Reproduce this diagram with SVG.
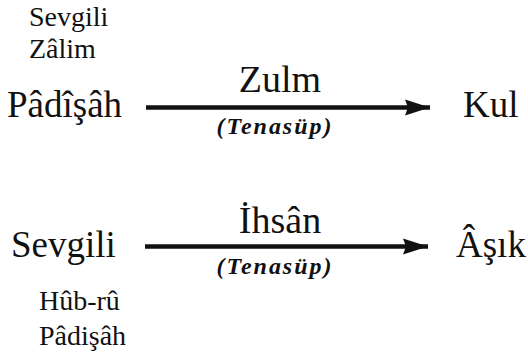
<svg xmlns="http://www.w3.org/2000/svg" width="528" height="355" viewBox="0 0 528 355">
<style>
text { font-family: 'Liberation Serif', 'Times New Roman', serif; fill: #111; }
.node { font-size: 37px; }
.rel { font-size: 38px; text-anchor: middle; }
.sub { font-size: 28px; }
.ten { font-size: 24px; font-style: italic; font-weight: bold; text-anchor: middle; }
.conn { stroke: #111; stroke-width: 4.5; fill: none; }
</style>
<defs>
<marker id="ah" markerUnits="userSpaceOnUse" markerWidth="30" markerHeight="20" refX="25" refY="9" orient="auto">
<path d="M0,1 L25,9 L0,17 L3,9 Z" fill="#111"/>
</marker>
</defs>
<g id="connectors">
<line class="conn" x1="146" y1="107.5" x2="430" y2="107.5" marker-end="url(#ah)"/>
<line class="conn" x1="145" y1="246.5" x2="428" y2="246.5" marker-end="url(#ah)"/>
</g>
<g id="padisah">
<text class="sub" x="29" y="26">Sevgili</text>
<text class="sub" x="29" y="58">Zâlim</text>
<text class="node" x="7" y="117">Pâdîşâh</text>
</g>
<g id="kul"><text class="node" x="463" y="117">Kul</text></g>
<g id="rel1">
<text class="rel" x="280" y="92">Zulm</text>
<text class="ten" x="274" y="134" textLength="115" lengthAdjust="spacing">(Tenasüp)</text>
</g>
<g id="sevgili">
<text class="node" x="11" y="257">Sevgili</text>
<text class="sub" x="39" y="310">Hûb-rû</text>
<text class="sub" x="39" y="345">Pâdişâh</text>
</g>
<g id="asik"><text class="node" x="456" y="257">Âşık</text></g>
<g id="rel2">
<text class="rel" x="280" y="233">İhsân</text>
<text class="ten" x="274" y="274" textLength="115" lengthAdjust="spacing">(Tenasüp)</text>
</g>
</svg>
